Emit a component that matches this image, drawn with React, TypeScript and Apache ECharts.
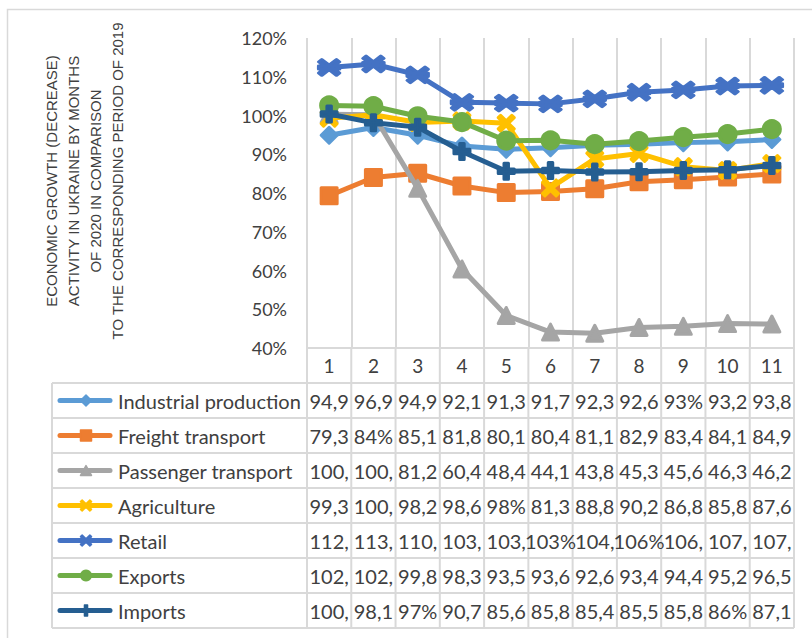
import React, { useEffect, useRef } from "react";
import * as echarts from "echarts";

const months = ["1", "2", "3", "4", "5", "6", "7", "8", "9", "10", "11"];
const seriesNames = [
  "Industrial production",
  "Freight transport",
  "Passenger transport",
  "Agriculture",
  "Retail",
  "Exports",
  "Imports",
];
const industrial = [94.9, 96.9, 94.9, 92.1, 91.3, 91.7, 92.3, 92.6, 93, 93.2, 93.8];
const freight = [79.3, 84, 85.1, 81.8, 80.1, 80.4, 81.1, 82.9, 83.4, 84.1, 84.9];
const passenger = [100.3, 100.2, 81.2, 60.4, 48.4, 44.1, 43.8, 45.3, 45.6, 46.3, 46.2];
const agriculture = [99.3, 100.2, 98.2, 98.6, 98, 81.3, 88.8, 90.2, 86.8, 85.8, 87.6];
const retail = [112.4, 113.3, 110.5, 103.4, 103.2, 103, 104.3, 106, 106.6, 107.6, 107.8];
const exportsData = [102.6, 102.4, 99.8, 98.3, 93.5, 93.6, 92.6, 93.4, 94.4, 95.2, 96.5];
const imports = [100.4, 98.1, 97, 90.7, 85.6, 85.8, 85.4, 85.5, 85.8, 86, 87.1];
const allData = [industrial, freight, passenger, agriculture, retail, exportsData, imports];
const colors = ["#5B9BD5", "#ED7D31", "#A5A5A5", "#FFC000", "#4472C4", "#70AD47", "#255E91"];
const yTitle = [
  "ECONOMIC GROWTH (DECREASE)",
  "ACTIVITY IN UKRAINE BY MONTHS",
  "OF 2020 IN COMPARISON",
  "TO THE CORRESPONDING PERIOD OF 2019",
];

// marker shapes in a 10x10 box (list of polygons)
const X = [[1.5, 0], [5, 3.5], [8.5, 0], [10, 1.5], [6.5, 5], [10, 8.5], [8.5, 10], [5, 6.5], [1.5, 10], [0, 8.5], [3.5, 5], [0, 1.5]];
const shapes: number[][][][] = [
  [[[5, 0], [10, 5], [5, 10], [0, 5]]],
  [[[0, 0], [10, 0], [10, 10], [0, 10]]],
  [[[5, 0.5], [10, 9.5], [0, 9.5]]],
  [X],
  [X, [[0, 3.9], [10, 3.9], [10, 6.1], [0, 6.1]]],
  [], // circle
  [[[3.6, 0], [6.4, 0], [6.4, 3.6], [10, 3.6], [10, 6.4], [6.4, 6.4], [6.4, 10], [3.6, 10], [3.6, 6.4], [0, 6.4], [0, 3.6], [3.6, 3.6]]],
];
const symbolSizes = [16, 16, 16, 16, [21, 16], 17, 16];

function toPath(polys: number[][][]) {
  return (
    "path://" +
    polys
      .map((p) => "M" + p.map((q) => q[0] + "," + q[1]).join(" L") + " Z")
      .join(" ")
  );
}

function fmt(v: number) {
  const s = (Number.isInteger(v) ? String(v) : v.toFixed(1).replace(".", ",")) + "%";
  return s.slice(0, 4);
}

const FONT = "Lato";
const TXT = "#404040";
const GRID_C = "#d9d9d9";

export default function App() {
  const ref = useRef<HTMLDivElement>(null);
  useEffect(() => {
    const chart = echarts.init(ref.current!, null, { renderer: "svg" });
    const gLeft = 307;
    const gTop = 38;
    const gW = 487;
    const gH = 310;
    const band = gW / months.length;
    const tableTop = 383;
    const rowH = 35;
    const tableLeft = 52;
    const gBottom = gTop + gH;
    const tableBottom = tableTop + rowH * seriesNames.length;

    const graphics: any[] = [];
    graphics.push({
      type: "rect",
      shape: { x: 7.5, y: 9.5, width: 900, height: 900 },
      style: { fill: "none", stroke: GRID_C, lineWidth: 1.5 },
      silent: true,
      z: -10,
    });
    // y title
    graphics.push({
      type: "text",
      x: 84,
      y: 181,
      rotation: Math.PI / 2,
      style: {
        text: yTitle.join("\n"),
        align: "center",
        verticalAlign: "middle",
        lineHeight: 22,
        font: "15px 'Liberation Sans'",
        fill: TXT,
      },
    });
    // table lines
    for (let i = 0; i <= seriesNames.length; i++) {
      const y = tableTop + rowH * i;
      graphics.push({
        type: "line",
        shape: { x1: tableLeft, y1: y, x2: gLeft + gW, y2: y },
        style: { stroke: GRID_C, lineWidth: 2 },
        silent: true,
      });
    }
    graphics.push({
      type: "line",
      shape: { x1: tableLeft, y1: tableTop, x2: tableLeft, y2: tableBottom },
      style: { stroke: GRID_C, lineWidth: 2 },
      silent: true,
    });
    for (let j = 0; j <= months.length; j++) {
      const x = gLeft + band * j;
      graphics.push({
        type: "line",
        shape: { x1: x, y1: gBottom, x2: x, y2: tableBottom },
        style: { stroke: GRID_C, lineWidth: 2 },
        silent: true,
      });
    }
    // table rows
    seriesNames.forEach((name, i) => {
      const cy = tableTop + rowH * i + rowH / 2;
      graphics.push({
        type: "line",
        shape: { x1: 60, y1: cy, x2: 110, y2: cy },
        style: { stroke: colors[i], lineWidth: 5, lineCap: "round" },
        silent: true,
      });
      const mx = 86;
      const ms = 11;
      if (i === 5) {
        graphics.push({
          type: "circle",
          shape: { cx: mx, cy, r: ms / 2 + 0.5 },
          style: { fill: colors[i] },
        });
      } else {
        shapes[i].forEach((poly) => {
          graphics.push({
            type: "polygon",
            shape: {
              points: poly.map((p) => [mx - ms / 2 + (p[0] * ms) / 10, cy - ms / 2 + (p[1] * ms) / 10]),
            },
            style: { fill: colors[i], stroke: colors[i], lineWidth: 1.5, lineJoin: "round" },
          });
        });
      }
      graphics.push({
        type: "text",
        x: 118,
        y: cy,
        style: {
          text: name,
          align: "left",
          verticalAlign: "middle",
          font: `20px ${FONT}`,
          fill: TXT,
        },
      });
      allData[i].forEach((v, j) => {
        graphics.push({
          type: "text",
          x: gLeft + band * (j + 0.5),
          y: cy,
          style: {
            text: fmt(v),
            align: "center",
            verticalAlign: "middle",
            font: `20px ${FONT}`,
            fill: TXT,
          },
        });
      });
    });

    chart.setOption({
      animation: false,
      backgroundColor: "#ffffff",
      grid: { left: gLeft, top: gTop, width: gW, height: gH, containLabel: false },
      xAxis: {
        type: "category",
        data: months,
        boundaryGap: true,
        axisLine: { show: true, lineStyle: { color: GRID_C, width: 2 } },
        axisTick: { show: false },
        axisLabel: { margin: 8, fontSize: 19, fontFamily: FONT, color: TXT },
        splitLine: { show: true, lineStyle: { color: GRID_C, width: 2 } },
      },
      yAxis: {
        type: "value",
        min: 40,
        max: 120,
        interval: 10,
        axisLine: { show: false },
        axisTick: { show: false },
        splitLine: { show: false },
        axisLabel: { formatter: "{value}%", margin: 20, fontSize: 18, fontFamily: FONT, color: TXT },
      },
      series: seriesNames.map((name, i) => ({
        name,
        type: "line",
        data: allData[i],
        symbol: i === 5 ? "circle" : toPath(shapes[i]),
        symbolSize: symbolSizes[i],
        lineStyle: { color: colors[i], width: 5, cap: "round", join: "round" },
        itemStyle: { color: colors[i], borderColor: colors[i], borderWidth: 3, borderJoin: "round" },
        z: 2 + i,
      })),
      graphic: graphics,
    });
    return () => chart.dispose();
  }, []);
  return (
    <div
      ref={ref}
      style={{ position: "fixed", left: 0, top: 0, width: 812, height: 638, background: "#fff" }}
    />
  );
}
